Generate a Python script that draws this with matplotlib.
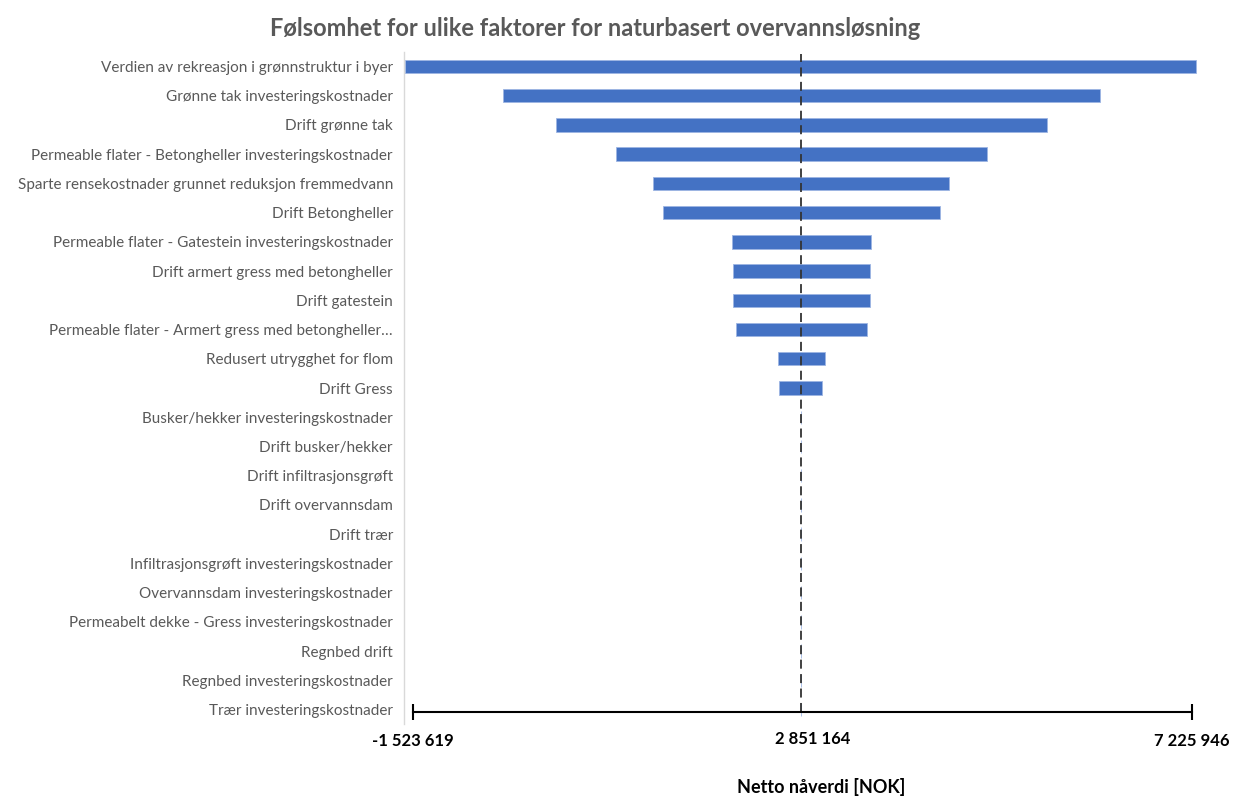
import matplotlib
matplotlib.use("Agg")
import matplotlib.pyplot as plt

plt.rcParams['font.family'] = ['Lato', 'DejaVu Sans']

# faktorer, sortert fra størst til minst utslag
faktorer = [
    "Verdien av rekreasjon i grønnstruktur i byer",
    "Grønne tak investeringskostnader",
    "Drift grønne tak",
    "Permeable flater - Betongheller investeringskostnader",
    "Sparte rensekostnader grunnet reduksjon fremmedvann",
    "Drift Betongheller",
    "Permeable flater - Gatestein investeringskostnader",
    "Drift armert gress med betongheller",
    "Drift gatestein",
    "Permeable flater - Armert gress med betongheller…",
    "Redusert utrygghet for flom",
    "Drift Gress",
    "Busker/hekker investeringskostnader",
    "Drift busker/hekker",
    "Drift infiltrasjonsgrøft",
    "Drift overvannsdam",
    "Drift trær",
    "Infiltrasjonsgrøft investeringskostnader",
    "Overvannsdam investeringskostnader",
    "Permeabelt dekke - Gress investeringskostnader",
    "Regnbed drift",
    "Regnbed investeringskostnader",
    "Trær investeringskostnader",
]

basis = 2851164  # netto nåverdi i basisscenario

lav = [-1523619, -442500, 143900, 807900, 1224000, 1334600,
       2091500, 2102600, 2102600, 2135800, 2600500, 2614900,
       basis, basis, basis, basis, basis, basis, basis, basis, basis, basis, basis]
hoy = [7225946, 6159300, 5577200, 4913300, 4496100, 4388700,
       3629700, 3614200, 3614200, 3585400, 3120600, 3090800,
       basis, basis, basis, basis, basis, basis, basis, basis, basis, basis, basis]

akse_verdier = [-1523619, basis, 7225946]
akse_tekst = ["-1 523 619", "2 851 164", "7 225 946"]

W, H = 1236, 796
fig = plt.figure(figsize=(W / 100, H / 100), dpi=100)

# hovedaksen med søylene
top_px, bot_px = 51.7, 724.3
ax = fig.add_axes([404 / W, 1 - bot_px / H, (1202 - 404) / W, (bot_px - top_px) / H])
n = len(faktorer)
ypos = list(range(n))
bredde = [h - l for l, h in zip(lav, hoy)]
ax.barh(ypos, bredde, left=lav, height=0.46, color='#4472C4',
        edgecolor='#9DB5E3', linewidth=0.6, zorder=2)
ax.set_ylim(n - 0.5, -0.5)
ax.set_xlim(-1534700, 7290000)
ax.set_yticks(ypos)
ax.set_yticklabels(faktorer, fontsize=11, color='#595959')
ax.tick_params(axis='y', length=0, pad=8)
ax.set_xticks([])
for s in ['top', 'right', 'bottom']:
    ax.spines[s].set_visible(False)
ax.spines['left'].set_color('#D9D9D9')
ax.spines['left'].set_linewidth(1)

# stiplet linje for basisverdien
line_px = 712
ax.axvline(basis, ymin=(bot_px - line_px) / (bot_px - top_px), ymax=0.997,
           color='#333333', linestyle=(0, (5, 3)), linewidth=1.3, zorder=3)

# egen x-akse under søylene
ax2 = fig.add_axes([413 / W, 1 - line_px / H, (1192 - 413) / W, 0.0001])
ax2.set_xlim(akse_verdier[0], akse_verdier[-1])
ax2.set_yticks([])
for s in ['top', 'right', 'left']:
    ax2.spines[s].set_visible(False)
ax2.spines['bottom'].set_linewidth(1.5)
ax2.spines['bottom'].set_color('black')
ax2.set_xticks([akse_verdier[0], akse_verdier[2]])
ax2.set_xticklabels([akse_tekst[0], akse_tekst[2]], fontsize=12,
                    fontweight='bold', color='black')
ax2.tick_params(axis='x', which='major', direction='inout', length=12,
                width=1.5, pad=9)
# midtverdien uten tikkmerke, litt forskjøvet mot høyre
ax2.annotate(akse_tekst[1], xy=(akse_verdier[1], 0), xytext=(7, -14),
             textcoords='offset points', ha='center', va='top',
             fontsize=12, fontweight='bold', color='black',
             annotation_clip=False)

fig.text(595 / W, 1 - 28 / H,
         "Følsomhet for ulike faktorer for naturbasert overvannsløsning",
         ha='center', va='center', fontsize=17, fontweight='bold',
         color='#595959')
fig.text(821 / W, 1 - 787 / H, "Netto nåverdi [NOK]", ha='center',
         va='center', fontsize=13, fontweight='bold', color='black')

fig.savefig("out.png", dpi=100, facecolor='white')
